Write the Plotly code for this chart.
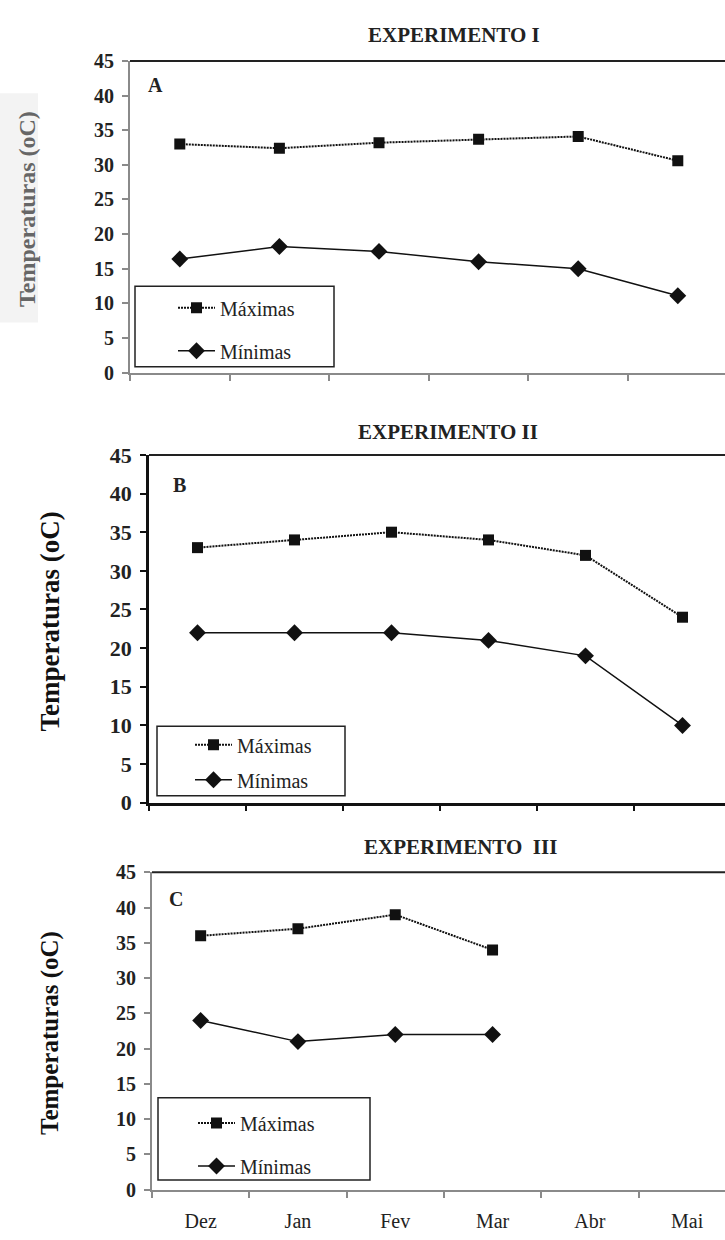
import plotly.graph_objects as go

months = ["Dez", "Jan", "Fev", "Mar", "Abr", "Mai"]

max_A = [33.0, 32.4, 33.2, 33.7, 34.1, 30.6]
min_A = [16.4, 18.2, 17.5, 16.0, 15.0, 11.1]

max_B = [33, 34, 35, 34, 32, 24]
min_B = [22, 22, 22, 21, 19, 10]

max_C = [36, 37, 39, 34]
min_C = [24, 21, 22, 22]

W, H = 725, 1240
SERIF = "Liberation Serif"


def px(x):
    return x / W


def py(y):
    return 1 - y / H


panels = [
    dict(s="", mx=max_A, mn=min_A, left=130, step=99.6, top=50, bot=368, ac="#8a8a8a",
         title="EXPERIMENTO I", tx=454, ty=23, letter="A", lx=155, ly=75,
         box=(135, 280, 334, 362), mkx=193, legdy=2, gap=14,
         ytx=27, yty=201, yts=24, ytc="#666666", tfs=20, lw=2),
    dict(s="2", mx=max_B, mn=min_B, left=149, step=97.0, top=452, bot=807, ac="#111111",
         title="EXPERIMENTO II", tx=448, ty=429, letter="B", lx=179, ly=483,
         box=(157, 729, 345, 800), mkx=210, legdy=-1, gap=6,
         ytx=50, yty=622, yts=27, ytc="#111111", tfs=22, lw=2.5),
    dict(s="3", mx=max_C, mn=min_C, left=152, step=97.3, top=878, bot=1202, ac="#8a8a8a",
         title="EXPERIMENTO  III", tx=460, ty=852, letter="C", lx=176, ly=905,
         box=(158, 1108, 370, 1192), mkx=213, legdy=6, gap=14,
         ytx=50, yty=1042, yts=25, ytc="#111111", tfs=20, lw=2),
]

fig = go.Figure()
shapes = []
annotations = []

for p in panels:
    s = p["s"]
    xa = "x" + s
    ya = "y" + s
    leg = "legend" + s
    fig.add_trace(go.Scatter(
        x=months[:len(p["mx"])], y=p["mx"], name="Máximas", mode="lines+markers",
        xaxis=xa, yaxis=ya, legend=leg, legendgroup="max" + s,
        line=dict(color="#111111", width=2, dash="2px,1px"),
        marker=dict(symbol="square", size=11, color="#111111"),
    ))
    fig.add_trace(go.Scatter(
        x=months[:len(p["mn"])], y=p["mn"], name="Mínimas", mode="lines+markers",
        xaxis=xa, yaxis=ya, legend=leg, legendgroup="min" + s,
        line=dict(color="#111111", width=1.5),
        marker=dict(symbol="diamond", size=13, color="#111111"),
    ))

    right = -0.5 + (W - p["left"]) / p["step"]
    fig.layout["xaxis" + s] = dict(
        domain=[px(p["left"]), 1.0], anchor=ya, type="category",
        categoryorder="array", categoryarray=months,
        range=[-0.5, right], tickson="boundaries", ticks="outside", ticklen=6,
        tickcolor=p["ac"], tickwidth=1.5,
        showline=True, linecolor=p["ac"], linewidth=p["lw"],
        showgrid=False, zeroline=False,
        showticklabels=(s == "3"),
        tickfont=dict(family=SERIF, size=20, color="#222222"),
        ticklabelstandoff=12,
        fixedrange=True,
    )
    fig.layout["yaxis" + s] = dict(
        domain=[py(p["bot"]), py(p["top"])], anchor=xa,
        range=[0, 45], dtick=5, tick0=0, ticks="outside", ticklen=6,
        tickcolor=p["ac"], tickwidth=1.5,
        showline=True, linecolor=p["ac"], linewidth=p["lw"],
        showgrid=False, zeroline=False,
        tickfont=dict(family=SERIF, size=p["tfs"], color="#222222", weight="bold"),
        ticklabelstandoff=4,
        fixedrange=True,
    )

    shapes.append(dict(type="line", xref="paper", yref="paper",
                       x0=px(p["left"]), x1=1.0, y0=py(p["top"]), y1=py(p["top"]),
                       line=dict(color="#222222", width=2)))
    bx0, by0, bx1, by1 = p["box"]
    shapes.append(dict(type="rect", xref="paper", yref="paper",
                       x0=px(bx0), x1=px(bx1), y0=py(by1), y1=py(by0),
                       line=dict(color="#222222", width=1.5), fillcolor="white", layer="below"))

    fig.layout[leg] = dict(
        x=px(p["mkx"] - 20), y=py(by0 + p["legdy"]), xanchor="left", yanchor="top",
        bgcolor="rgba(0,0,0,0)", borderwidth=0,
        font=dict(family=SERIF, size=20, color="#222222"),
        tracegroupgap=p["gap"], itemwidth=37, itemclick=False, itemdoubleclick=False,
    )

    annotations.append(dict(text="<b>%s</b>" % p["title"], xref="paper", yref="paper",
                            x=px(p["tx"]), y=py(p["ty"]), showarrow=False,
                            xanchor="center", yanchor="middle",
                            font=dict(family=SERIF, size=21, color="#222222")))
    annotations.append(dict(text="<b>%s</b>" % p["letter"], xref="paper", yref="paper",
                            x=px(p["lx"]), y=py(p["ly"]), showarrow=False,
                            xanchor="center", yanchor="middle",
                            font=dict(family=SERIF, size=20, color="#222222")))
    annotations.append(dict(text="<b>Temperaturas (oC)</b>", xref="paper", yref="paper",
                            x=px(p["ytx"]), y=py(p["yty"]), showarrow=False, textangle=-90,
                            xanchor="center", yanchor="middle",
                            font=dict(family=SERIF, size=p["yts"], color=p["ytc"])))

shapes.insert(0, dict(type="rect", xref="paper", yref="paper",
                      x0=0, x1=px(38), y0=py(317), y1=py(83),
                      line=dict(width=0), fillcolor="#f3f3f3", layer="below"))

fig.update_layout(
    width=W, height=H, margin=dict(l=0, r=0, t=0, b=0),
    paper_bgcolor="white", plot_bgcolor="rgba(0,0,0,0)",
    shapes=shapes, annotations=annotations, showlegend=True,
    font=dict(family=SERIF, color="#222222"),
)

fig.write_html("out.html")
